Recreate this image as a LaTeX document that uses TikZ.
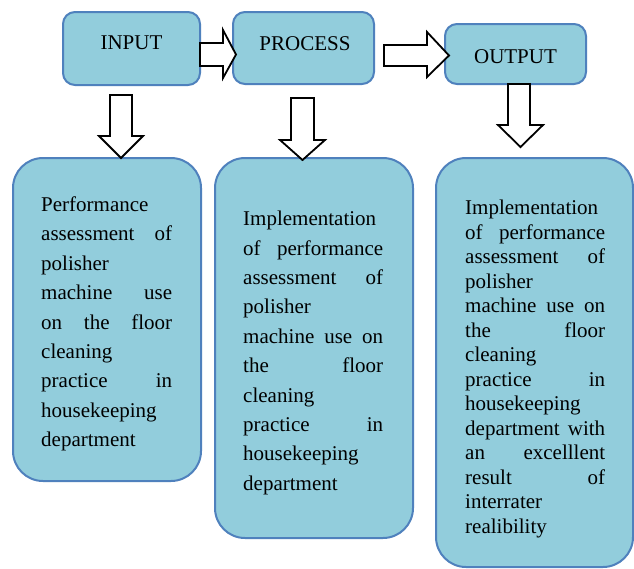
\documentclass[tikz,border=0pt]{standalone}
\usepackage{fontspec}
\setmainfont{Liberation Serif}
\definecolor{boxfill}{HTML}{92CDDC}
\definecolor{boxline}{HTML}{4F81BD}
\newcommand{\jline}[2]{\leavevmode\hbox to #1{#2}}
\begin{document}
\begin{tikzpicture}[x=1pt,y=-1pt,
  topbox/.style={draw=boxline, fill=boxfill, line width=2pt, rounded corners=12pt,
    inner sep=0pt, anchor=base, font=\fontsize{21}{25}\selectfont},
  lowbox/.style={draw=boxline, fill=boxfill, line width=2pt, rounded corners=30pt,
    inner sep=0pt, anchor=north west},
  bodytext/.style={anchor=north west, inner sep=0pt, align=left,
    font=\fontsize{21}{29.4}\selectfont},
  blockarrow/.style={draw=black, fill=white, line width=1.8pt, line join=miter}]
\useasboundingbox[fill=white] (0,0) rectangle (634,568);

% top boxes
\node[topbox, minimum width=137pt, text height=37pt, text depth=36pt] (in) at (131.5,49) {INPUT};
\node[topbox, minimum width=141pt, text height=38pt, text depth=34pt] (pr) at (303.5,50) {\hspace{3pt}PROCESS};
\node[topbox, minimum width=141pt, text height=39pt, text depth=21pt] (out) at (515.5,63) {OUTPUT\hspace{8pt}};

% lower boxes
\node[lowbox, minimum width=188pt, minimum height=323pt] (b1) at (12,157) {};
\node[lowbox, minimum width=198pt, minimum height=380pt] (b2) at (214,157) {};
\node[lowbox, minimum width=197pt, minimum height=409pt] (b3) at (435,157) {};

\node[bodytext, text width=131pt] (t1) at (41,196.5) {%
Performance\\
\jline{131pt}{assessment\hfill of}\\
polisher\\
\jline{131pt}{machine\hfill use}\\
\jline{131pt}{on\hfill the\hfill floor}\\
cleaning\\
\jline{131pt}{practice\hfill in}\\
housekeeping\\
department};

\node[bodytext, text width=140pt] (t2) at (243,211) {%
Implementation\\
\jline{140pt}{of\hfill performance}\\
\jline{140pt}{assessment\hfill of}\\
polisher\\
\jline{140pt}{machine\hfill use\hfill on}\\
\jline{140pt}{the\hfill floor}\\
cleaning\\
\jline{140pt}{practice\hfill in}\\
housekeeping\\
department};

\node[bodytext, text width=140pt, font=\fontsize{21}{24.5}\selectfont] (t3) at (465,200) {%
Implementation\\
\jline{140pt}{of\hfill performance}\\
\jline{140pt}{assessment\hfill of}\\
polisher\\
\jline{140pt}{machine\hfill use\hfill on}\\
\jline{140pt}{the\hfill floor}\\
cleaning\\
\jline{140pt}{practice\hfill in}\\
housekeeping\\
\jline{140pt}{department\hfill with}\\
\jline{140pt}{an\hfill excelllent}\\
\jline{140pt}{result\hfill of}\\
interrater\\
realibility};

% block arrows
\draw[blockarrow] (200,43) -- (223,43) -- (223,30) -- (236,54.5) -- (223,78) -- (223,66) -- (200,66) -- cycle;
\draw[blockarrow] (384,45) -- (427,45) -- (427,32) -- (449,55.5) -- (427,77) -- (427,66) -- (384,66) -- cycle;
\draw[blockarrow] (110,95) -- (132,95) -- (132,136) -- (143,136) -- (121,158) -- (99,136) -- (110,136) -- cycle;
\draw[blockarrow] (291,98) -- (314,98) -- (314,140) -- (325,140) -- (302.5,160) -- (280,140) -- (291,140) -- cycle;
\draw[blockarrow] (508,84) -- (530,84) -- (530,125) -- (543,125) -- (520.5,147) -- (498,125) -- (508,125) -- cycle;
\end{tikzpicture}
\end{document}
